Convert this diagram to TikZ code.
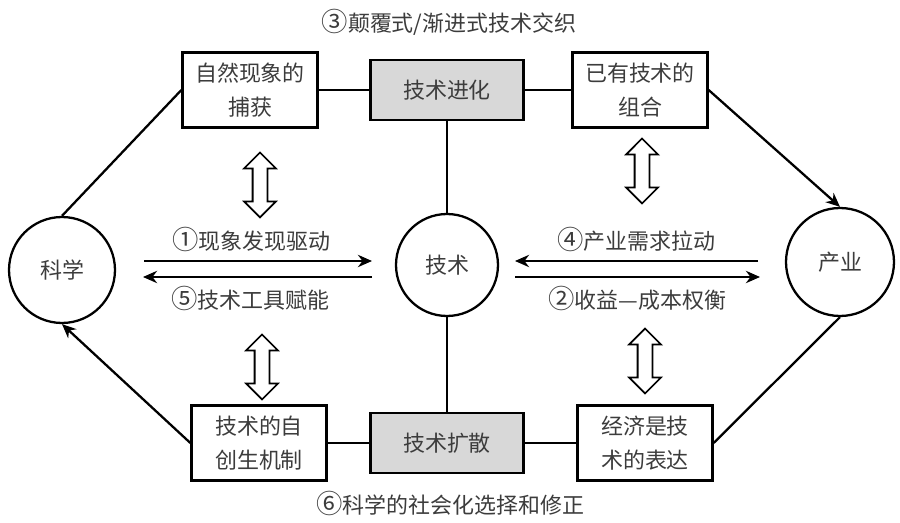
\documentclass[tikz,border=0pt]{standalone}
\usepackage{fontspec}
\setmainfont{Noto Sans CJK SC}
\usetikzlibrary{shapes.arrows,arrows.meta}

\definecolor{boxgray}{RGB}{216,216,216}
\definecolor{inkgray}{RGB}{60,60,60}

\newcommand{\stepnum}[1]{{\fontsize{15}{19}\selectfont #1}}

\tikzset{
	every node/.style={font=\fontsize{12.5}{19}\selectfont, text=inkgray},
	box/.style={draw, line width=1.3pt, minimum width=2.7cm, minimum height=1.5cm, align=center, inner sep=0pt},
	graybox/.style={draw, fill=boxgray, line width=1.3pt, minimum width=3.06cm, minimum height=1.2cm},
	circ/.style={draw, circle, line width=1.3pt, inner sep=0pt},
	link/.style={line width=1.3pt},
	flow/.style={line width=1.3pt, -{Stealth[length=8pt,width=7pt]}},
	dblarrow/.style={double arrow, draw, line width=1pt, rotate=90, minimum height=1.3cm, minimum width=0.6cm, inner sep=0.13cm, double arrow head extend=0.17cm},
}

\begin{document}
\begin{tikzpicture}[x=0.02cm, y=-0.02cm]
	\useasboundingbox (0,0) rectangle (900,523);

	\node (title) at (449,22) {\stepnum{③}颠覆式/渐进式技术交织};
	\node (foot) at (450,503) {\stepnum{⑥}科学的社会化选择和修正};

	\node[box] (capture) at (250,90) {自然现象的\\捕获};
	\node[graybox] (evolve) at (447,90) {技术进化};
	\node[box] (combine) at (640,90) {已有技术的\\组合};

	\node[circ, minimum size=2.12cm] (science) at (62,270) {科学};
	\node[circ, minimum size=2.04cm] (tech) at (447,265) {技术};
	\node[circ, minimum size=2.16cm] (industry) at (840,262) {产业};

	\node[box] (autopoiesis) at (259,443) {技术的自\\创生机制};
	\node[graybox] (diffuse) at (447,443) {技术扩散};
	\node[box] (economy) at (645,443) {经济是技\\术的表达};

	\node[dblarrow] (capdbl) at (260,185) {};
	\node[dblarrow] (comdbl) at (642,171) {};
	\node[dblarrow] (autdbl) at (262,367) {};
	\node[dblarrow] (ecodbl) at (645,361) {};

	\draw[link] (capture) -- (evolve);
	\draw[link] (evolve) -- (combine);
	\draw[link] (evolve) -- (tech);
	\draw[link] (tech) -- (diffuse);
	\draw[link] (autopoiesis) -- (diffuse);
	\draw[link] (diffuse) -- (economy);

	\draw[link] (science.north) -- (capture.west);
	\draw[flow] (combine.east) -- (industry.north);
	\draw[link] (industry.south) -- (economy.east);
	\draw[flow] (autopoiesis.west) -- (science.south);

	\coordinate (sciup) at (144,261);
	\coordinate (scidn) at (143,277);
	\coordinate (techlu) at (372,261);
	\coordinate (techld) at (372,277);
	\coordinate (techru) at (515,261);
	\coordinate (techrd) at (515,277);
	\coordinate (indup) at (758,261);
	\coordinate (inddn) at (760,277);

	\draw[flow] (sciup) -- (techlu) node[pos=0.47, above=1pt] {\stepnum{①}现象发现驱动};
	\draw[flow] (techld) -- (scidn) node[pos=0.53, below=1pt] {\stepnum{⑤}技术工具赋能};
	\draw[flow] (indup) -- (techru) node[midway, above=1pt] {\stepnum{④}产业需求拉动};
	\draw[flow] (techrd) -- (inddn) node[midway, below=1pt] {\stepnum{②}收益—成本权衡};
\end{tikzpicture}
\end{document}
